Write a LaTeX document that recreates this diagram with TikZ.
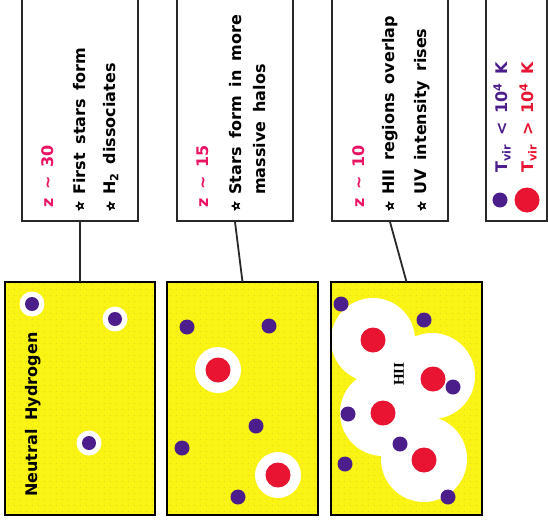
\documentclass[tikz,border=0pt]{standalone}
\usepackage{fontspec}
\setmainfont{DejaVu Sans}[WordSpace=1.6]
\newfontfamily\hiifont{Liberation Serif}
\usetikzlibrary{patterns.meta,shapes.geometric}
\definecolor{bgyellow}{RGB}{250,244,20}
\definecolor{dotc}{RGB}{226,200,50}
\definecolor{halopurple}{RGB}{75,30,140}
\definecolor{halored}{RGB}{232,20,50}
\definecolor{zpink}{RGB}{235,20,100}
\definecolor{boxline}{RGB}{40,40,40}
\tikzdeclarepattern{name=fdots, type=uncolored,
  bounding box={(0pt,0pt) and (6pt,6pt)}, tile size={(6pt,6pt)},
  code={\fill (3pt,3pt) circle (0.55pt);}}
\begin{document}
\begin{tikzpicture}[x=1pt,y=-1pt,
  tbox/.style={draw=boxline, line width=1.8pt, fill=white, inner sep=0pt, minimum width=116pt, minimum height=230pt},
  lbox/.style={draw=boxline, line width=1.8pt, fill=white, inner sep=0pt, minimum width=61pt, minimum height=230pt},
  panel/.style={fill=bgyellow, inner sep=0pt, minimum width=150pt, minimum height=233pt},
  panelborder/.style={draw=black, line width=2.2pt},
  dotfill/.style={pattern={fdots}, pattern color=dotc},
  conn/.style={draw=boxline, line width=1.8pt},
  txt/.style={rotate=90, anchor=west, inner sep=0pt, font=\fontsize{16}{19}\selectfont\bfseries},
  bstar/.style={star, star points=5, star point ratio=2.1, fill=black, inner sep=0pt, minimum size=10.5pt, shape border rotate=90},
  pdot/.style={fill=halopurple},
  rdot/.style={fill=halored},
  halo/.style={fill=white}]
\useasboundingbox (0,0) rectangle (548,525);

% top boxes
\node[tbox] (t1) at (80,106) {};
\node[tbox] (t2) at (235,106) {};
\node[tbox] (t3) at (390,106) {};
\node[lbox] (lg) at (516.5,106) {};

% bullets
\foreach \n/\x in {s1a/80, s1b/111, s2a/236, s3a/390, s3b/422} {
  \node[bstar] (\n) at (\x,206) {};
  \fill[white] (\n.center) circle (1.3pt);
}

% texts box 1
\node[txt] (t1z) at (48,208) {\color{zpink}z \textasciitilde{} 30};
\node[txt] (t1a) at (80,195) {First stars form};
\node[txt] (t1b) at (111,195) {H\textsubscript{2} dissociates};
% texts box 2
\node[txt] (t2z) at (203,208) {\color{zpink}z \textasciitilde{} 15};
\node[txt] (t2a) at (236,195) {Stars form in more};
\node[txt] (t2b) at (260,195) {massive halos};
% texts box 3
\node[txt] (t3z) at (359,208) {\color{zpink}z \textasciitilde{} 10};
\node[txt] (t3a) at (390,195) {HII regions overlap};
\node[txt] (t3b) at (422,195) {UV intensity rises};
% legend
\fill[pdot] (500,200) circle (7.5pt);
\fill[rdot] (527,200) circle (12.5pt);
\node[txt] (lga) at (502,173) {\color{halopurple}T\textsubscript{vir} < 10\textsuperscript{4} K};
\node[txt] (lgb) at (528,173) {\color{halored}T\textsubscript{vir} > 10\textsuperscript{4} K};

% bottom panels
\node[panel] (p1) at (80,398.5) {};
\node[panel] (p2) at (242.5,398.5) {};
\node[panel] (p3) at (406.5,398.5) {};
\fill[dotfill] (p1.south west) rectangle (p1.north east);
\fill[dotfill] (p2.south west) rectangle (p2.north east);
\fill[dotfill] (p3.south west) rectangle (p3.north east);

% panel 1
\foreach \x/\y in {32/304, 115/319, 89/443} {
  \fill[halo] (\x,\y) circle (12.5pt);
  \fill[pdot] (\x,\y) circle (7pt);
}
\node[txt] (nh) at (33,497) {Neutral Hydrogen};

% panel 2
\foreach \x/\y in {218/370, 278/475} {
  \fill[halo] (\x,\y) circle (23pt);
  \fill[rdot] (\x,\y) circle (12.5pt);
}
\foreach \x/\y in {187/327, 269/326, 256/426, 182/448, 238/497} {
  \fill[pdot] (\x,\y) circle (7.5pt);
}

% panel 3
\begin{scope}
\clip (p3.south west) rectangle (p3.north east);
\foreach \x/\y/\r in {373/340/42, 432/376/43, 383/413/43, 424/459/43} {
  \fill[halo] (\x,\y) circle (\r pt);
}
\foreach \x/\y in {373/340, 433/379, 383/413, 424/460} {
  \fill[rdot] (\x,\y) circle (12.5pt);
}
\foreach \x/\y in {341/304, 424/320, 453/387, 348/414, 400/444, 345/464, 448/497} {
  \fill[pdot] (\x,\y) circle (7.5pt);
}
\end{scope}
\node[rotate=90, inner sep=0pt, font=\fontsize{15}{17}\selectfont\hiifont\bfseries] (hii) at (399,374) {HII};

\draw[panelborder] (p1.south west) rectangle (p1.north east);
\draw[panelborder] (p2.south west) rectangle (p2.north east);
\draw[panelborder] (p3.south west) rectangle (p3.north east);

% connectors
\draw[conn] (t1.south) -- (p1.north);
\draw[conn] (t2.south) -- (p2.north);
\draw[conn] (t3.south) -- (p3.north);
\end{tikzpicture}
\end{document}
